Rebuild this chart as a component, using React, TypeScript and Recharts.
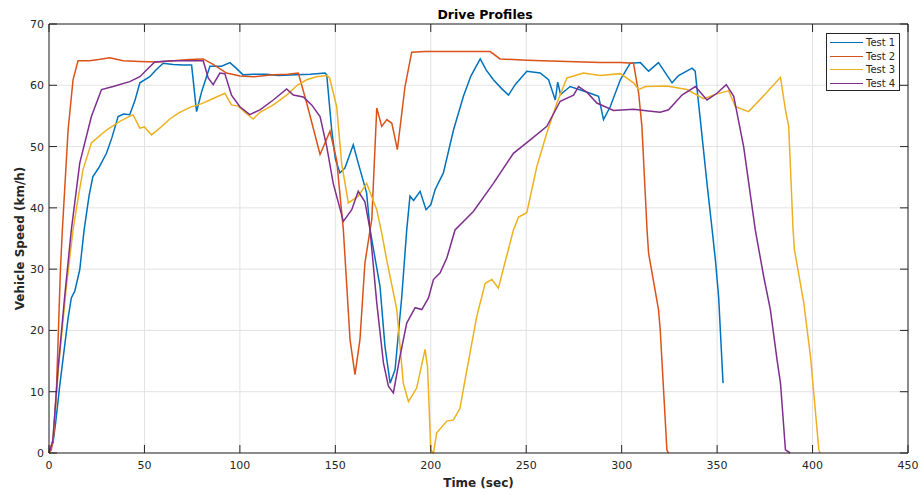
import { LineChart, Line, XAxis, YAxis, CartesianGrid, ReferenceLine, Label } from 'recharts';

// MATLAB default colour order
const COLORS = ['#0072BD', '#D95319', '#EDB120', '#7E2F8E'];
const SERIES_NAMES = ['Test 1', 'Test 2', 'Test 3', 'Test 4'];

const X_TICKS = [0, 50, 100, 150, 200, 250, 300, 350, 400, 450];
const Y_TICKS = [0, 10, 20, 30, 40, 50, 60, 70];

const test1Time = [0, 2.1, 3.5, 5.6, 8, 10, 11.7, 13.5, 16.1, 18.4, 21, 23, 26, 30.1, 33, 36.2, 39, 42.3, 45, 47.6, 52.8, 56, 59.8, 65, 70.3, 74.7, 77.3, 80, 84.3, 90.4, 94.8, 98, 101.7, 107, 114, 120, 129.7, 137, 144.6, 145.5, 148.1, 150, 152.4, 155, 159.4, 162, 166.4, 168.2, 173.4, 176, 178.7, 181.3, 184.8, 187.4, 189.1, 191, 194.4, 197.5, 200, 202.3, 206.6, 211.9, 217.1, 221, 225.9, 229, 232.8, 237, 240.7, 244.2, 250.3, 257.3, 261.7, 265.2, 266.5, 268, 273, 283.5, 287.9, 290.5, 294, 299.3, 304.5, 309.8, 314.1, 319.3, 326.4, 329.8, 336.9, 338.5, 341.2, 344.7, 347.4, 349.1, 350.8, 353.1];
const test1Speed = [0, 1.7, 5, 10.9, 17, 22, 25.3, 26.4, 29.9, 36.4, 42, 45.1, 46.5, 48.9, 51.5, 54.9, 55.3, 55.2, 57.5, 60.4, 61.4, 62.5, 63.6, 63.4, 63.3, 63.3, 55.7, 59, 63.1, 63.1, 63.7, 62.8, 61.7, 61.8, 61.8, 61.6, 61.7, 61.8, 62.0, 61.7, 52.7, 48, 45.7, 46.5, 50.3, 47.3, 42.4, 36.4, 27.2, 17.4, 11.4, 13.6, 25.5, 36.4, 41.9, 41.2, 42.7, 39.7, 40.5, 43, 45.7, 52.7, 58.2, 61.5, 64.3, 62.5, 60.9, 59.5, 58.4, 60.1, 62.3, 62.0, 60.9, 57.6, 60.5, 58.5, 59.8, 58.7, 58.2, 54.4, 56.5, 60.9, 63.6, 63.7, 62.3, 63.7, 60.4, 61.6, 62.8, 62.3, 54.4, 44, 36.4, 31.5, 25.5, 11.4];

const test2Time = [0, 1.2, 2.5, 3.9, 6, 7, 10, 12.6, 15.2, 21.3, 26, 31.8, 38.8, 47.6, 56.3, 65, 73.8, 80.8, 86, 93, 100, 107, 117.5, 125, 130.6, 135, 142, 147.2, 150.7, 154.2, 157.7, 160.3, 162.9, 165.5, 168.2, 169.1, 171.7, 174.3, 177, 179.6, 182.5, 186.5, 190, 197, 218.9, 231.1, 236.3, 250.3, 271.3, 288.8, 299.3, 306.2, 308.9, 310.6, 313.3, 314.1, 319.3, 320.2, 323.7, 324.5];
const test2Speed = [0, 0.5, 3, 10.3, 30, 36.4, 52.7, 60.9, 64, 64, 64.2, 64.5, 64, 63.9, 63.8, 64, 64.2, 64.3, 63.4, 62, 61.5, 61.4, 61.7, 61.8, 62, 57.1, 48.7, 52.5, 47.8, 36.4, 18.5, 12.8, 18.5, 31, 36.4, 38.1, 56.3, 53.3, 54.4, 53.8, 49.5, 59.8, 65.4, 65.5, 65.5, 65.5, 64.3, 64.1, 63.9, 63.7, 63.7, 63.6, 58.7, 53.3, 36.4, 32.6, 23.4, 20.1, 0.5, 0];

const test3Time = [0, 2, 5, 9.1, 12.6, 14.4, 17.8, 22.2, 30.1, 37.1, 44, 47.6, 50, 53.7, 58, 63.3, 68, 73.8, 80, 84.3, 92.1, 95.6, 99.1, 103, 107, 110.5, 117.5, 124.5, 130, 135, 140, 145.5, 147, 150.7, 153.3, 156.8, 162, 166.4, 171.7, 174.3, 176.9, 182.2, 185.6, 188.3, 192.6, 197, 198.3, 200, 201.4, 203.1, 208.4, 211.9, 215.3, 218, 224.1, 228.5, 232, 235.4, 239.9, 243.3, 246, 250.3, 255.6, 260.8, 266.1, 271.3, 280, 288.8, 299.3, 306.2, 308.9, 312.4, 323.7, 334.2, 342.9, 349.9, 356, 359.6, 366.5, 375, 383.2, 385.8, 387.5, 389.8, 390.5, 395.4, 398.9, 403.3, 404];
const test3Speed = [0, 2, 14, 27.2, 36.4, 40, 46.2, 50.6, 52.7, 54.1, 55.2, 53, 53.2, 51.9, 53, 54.5, 55.5, 56.4, 57, 57.6, 58.7, 56.8, 56.6, 55.5, 54.5, 55.6, 56.8, 58.4, 60, 60.9, 61.4, 61.6, 61.2, 56.5, 47.3, 40.8, 41.9, 44.0, 39.7, 35.9, 31.5, 23.4, 11.4, 8.4, 10.6, 16.9, 14, 0.5, 0, 3.3, 5.2, 5.4, 7.3, 12, 22.3, 27.7, 28.3, 26.9, 32.3, 36.4, 38.5, 39.2, 46.8, 52.2, 57.1, 61.2, 62, 61.6, 61.9, 60.4, 59.3, 59.8, 59.9, 59.3, 57.8, 58.6, 59.1, 56.5, 55.7, 58.5, 61.3, 56, 53.3, 36.4, 33.2, 24.5, 15.8, 0.5, 0];

const test4Time = [0, 2, 4.7, 8.2, 11.7, 16.1, 22.2, 27.5, 33.6, 42.3, 47.6, 51.1, 55.4, 65, 80.8, 83.4, 86, 89.5, 92.1, 95.6, 100, 105.2, 110.5, 117.5, 124.5, 128, 133.2, 137.6, 142, 145.5, 148.9, 154.2, 158.6, 162, 165.5, 168.2, 171.7, 175.2, 177.8, 180.4, 183.9, 187.4, 191.8, 195.3, 198.8, 201.4, 204.9, 208.4, 212.7, 222.3, 232.8, 243.3, 252.1, 260.8, 267.8, 274.8, 277.4, 282, 287, 295.7, 306.2, 314, 320.2, 324.6, 331.6, 338.6, 344.7, 349.9, 354.8, 358.7, 363.9, 370, 374.4, 377.9, 381.4, 383.2, 385.8, 388.3];
const test4Speed = [0, 2, 13.6, 25.5, 36.4, 47.3, 54.9, 59.3, 59.8, 60.6, 61.4, 62.5, 63.8, 64, 64, 61.2, 60.1, 62, 61.9, 58.4, 56.5, 55.2, 56, 57.6, 59.4, 58.4, 58.1, 56.8, 54.9, 50, 44, 37.8, 39.7, 42.7, 41, 36.4, 24.5, 14.7, 10.9, 9.8, 15.8, 21.2, 23.7, 23.4, 25.3, 28.3, 29.4, 31.8, 36.4, 39.4, 44, 48.9, 51.1, 53.3, 57.4, 58.4, 59.8, 58.8, 57.1, 55.9, 56.1, 55.8, 55.6, 56, 58.4, 59.8, 57.6, 58.7, 60.1, 58.2, 50, 36.4, 28.8, 23.4, 15.2, 11.4, 0.5, 0];

const zip = (t: number[], v: number[]) => t.map((time, i) => ({ t: time, v: v[i] }));

const series = [
  zip(test1Time, test1Speed),
  zip(test2Time, test2Speed),
  zip(test3Time, test3Speed),
  zip(test4Time, test4Speed),
];

const W = 923;
const H = 495;
const PLOT_LEFT = 49;
const PLOT_RIGHT = 908;
const PLOT_TOP = 24;
const PLOT_BOTTOM = 453;
const TICK_LEN = 8;
const AXIS = '#262626';
const FONT = '"DejaVu Sans", sans-serif';

const XTick = ({ x, payload }: any) => (
  <g>
    <line x1={x} x2={x} y1={PLOT_BOTTOM} y2={PLOT_BOTTOM - TICK_LEN} stroke={AXIS} />
    <line x1={x} x2={x} y1={PLOT_TOP} y2={PLOT_TOP + TICK_LEN} stroke={AXIS} />
    <text x={x} y={PLOT_BOTTOM + 16} textAnchor="middle" fontSize={11} fontFamily={FONT} fill={AXIS}>
      {payload.value}
    </text>
  </g>
);

const YTick = ({ y, payload }: any) => (
  <g>
    <line x1={PLOT_LEFT} x2={PLOT_LEFT + TICK_LEN} y1={y} y2={y} stroke={AXIS} />
    <line x1={PLOT_RIGHT} x2={PLOT_RIGHT - TICK_LEN} y1={y} y2={y} stroke={AXIS} />
    <text x={PLOT_LEFT - 5} y={y + 4} textAnchor="end" fontSize={11} fontFamily={FONT} fill={AXIS}>
      {payload.value}
    </text>
  </g>
);

export default function App() {
  return (
    <div style={{ position: 'absolute', left: 0, top: 0, width: W, height: H, background: '#fff' }}>
      <LineChart width={W} height={H} margin={{ top: PLOT_TOP, right: W - PLOT_RIGHT, left: 0, bottom: 0 }}>
        <CartesianGrid stroke="#e2e2e2" />
        <XAxis
          type="number"
          dataKey="t"
          domain={[0, 450]}
          ticks={X_TICKS}
          height={H - PLOT_BOTTOM}
          axisLine={{ stroke: AXIS }}
          tickLine={false}
          tick={<XTick />}
          interval={0}
        >
          <Label
            content={() => (
              <text x={(PLOT_LEFT + PLOT_RIGHT) / 2} y={487} textAnchor="middle" fontSize={12} fontWeight="bold" fontFamily={FONT} fill={AXIS}>
                Time (sec)
              </text>
            )}
          />
        </XAxis>
        <YAxis
          type="number"
          domain={[0, 70]}
          ticks={Y_TICKS}
          width={PLOT_LEFT}
          axisLine={{ stroke: AXIS }}
          tickLine={false}
          tick={<YTick />}
          interval={0}
        >
          <Label
            content={() => (
              <text
                transform={`translate(24, ${(PLOT_TOP + PLOT_BOTTOM) / 2}) rotate(-90)`}
                textAnchor="middle"
                fontSize={12}
                fontWeight="bold"
                fontFamily={FONT}
                fill={AXIS}
              >
                Vehicle Speed (km/h)
              </text>
            )}
          />
        </YAxis>
        {series.map((d, i) => (
          <Line
            key={SERIES_NAMES[i]}
            data={d}
            dataKey="v"
            name={SERIES_NAMES[i]}
            type="linear"
            stroke={COLORS[i]}
            strokeWidth={1.5}
            dot={false}
            activeDot={false}
            isAnimationActive={false}
          />
        ))}
        <ReferenceLine y={70} stroke={AXIS} />
        <ReferenceLine x={450} stroke={AXIS} />
      </LineChart>
      <div
        style={{
          position: 'absolute',
          left: 385,
          width: 200,
          top: 8,
          textAlign: 'center',
          fontFamily: FONT,
          fontSize: 12.5,
          fontWeight: 'bold',
          lineHeight: '14px',
          color: '#000',
        }}
      >
        Drive Profiles
      </div>
      <div
        style={{
          position: 'absolute',
          left: 826,
          top: 33,
          width: 72,
          paddingTop: 2,
          background: '#fff',
          border: `1px solid ${AXIS}`,
          fontFamily: FONT,
          fontSize: 10,
          color: AXIS,
        }}
      >
        {SERIES_NAMES.map((name, i) => (
          <div key={name} style={{ display: 'flex', alignItems: 'center', height: 13.5 }}>
            <span style={{ display: 'inline-block', marginLeft: 3, width: 33, height: 0, borderTop: `1.5px solid ${COLORS[i]}` }} />
            <span style={{ marginLeft: 3, whiteSpace: 'nowrap', lineHeight: '13px' }}>{name}</span>
          </div>
        ))}
      </div>
    </div>
  );
}
